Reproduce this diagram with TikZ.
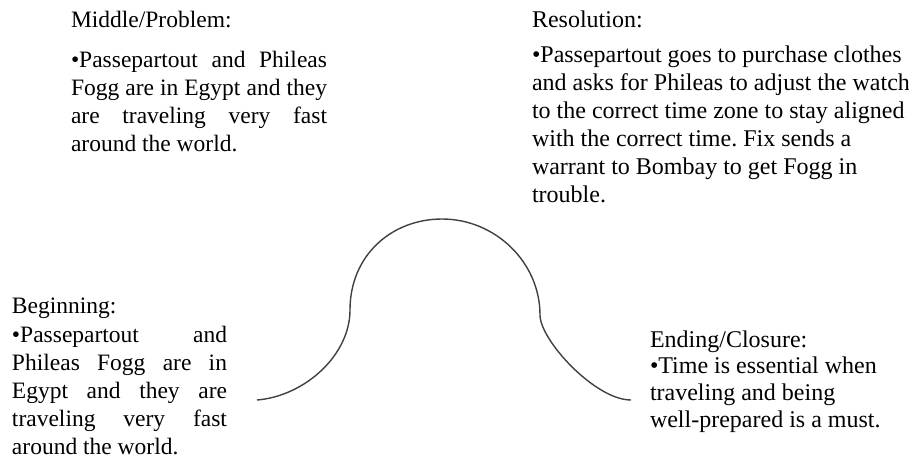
\documentclass[tikz,border=0pt]{standalone}
\usepackage{fontspec}
\setmainfont{Liberation Serif}
\frenchspacing
\tikzset{
  txt/.style={anchor=base west, inner sep=0pt, outer sep=0pt},
  arc line/.style={draw=black!75, line width=1.4pt}
}
\newcommand{\bodyfont}{\fontsize{24}{28}\selectfont}
\newcommand{\smallbody}{\fontsize{23.5}{28}\selectfont}
\newcommand{\jline}[1]{\makebox[\linewidth][s]{#1}}
\begin{document}
\begin{tikzpicture}[x=1pt,y=-1pt]
\useasboundingbox (0,0) rectangle (909,459);
% curve
\coordinate (c0) at (257,400);
\coordinate (c1) at (350,310);
\coordinate (c2) at (442,219);
\coordinate (c3) at (540,315);
\coordinate (c4) at (631,400);
\draw[arc line] (c0) .. controls (305,396) and (350,355) .. (c1)
  .. controls (350,255) and (392,219) .. (c2)
  .. controls (495,219) and (540,262) .. (c3)
  .. controls (540,340) and (595,400) .. (c4);
% Middle/Problem
\node[txt] (midhead) at (71,27) {\smallbody Middle/Problem:};
\node[txt] (midbody) at (71,67) {\parbox[t]{256pt}{\smallbody\setlength{\parindent}{0pt}%
\jline{•Passepartout and Phileas}\\
\jline{Fogg are in Egypt and they}\\
\jline{are traveling very fast}\\
around the world.}};
% Resolution
\node[txt] (reshead) at (532,27) {\bodyfont Resolution:};
\node[txt] (resbody) at (532,62) {\parbox[t]{380pt}{\bodyfont\setlength{\parindent}{0pt}\raggedright
•Passepartout goes to purchase clothes\\
and asks for Phileas to adjust the watch\\
to the correct time zone to stay aligned\\
with the correct time. Fix sends a\\
warrant to Bombay to get Fogg in\\
trouble.}};
% Beginning
\node[txt] (beghead) at (12,313) {\smallbody Beginning:};
\node[txt] (begbody) at (12,342) {\parbox[t]{215pt}{\smallbody\setlength{\parindent}{0pt}%
\jline{•Passepartout and}\\
\jline{Phileas Fogg are in}\\
\jline{Egypt and they are}\\
\jline{traveling very fast}\\
around the world.}};
% Ending
\node[txt] (endhead) at (650,347) {\bodyfont Ending/Closure:};
\node[txt] (endbody) at (650,373) {\parbox[t]{250pt}{\fontsize{24}{27}\selectfont\setlength{\parindent}{0pt}\raggedright
•Time is essential when\\
traveling and being\\
well-prepared is a must.}};
\end{tikzpicture}
\end{document}
